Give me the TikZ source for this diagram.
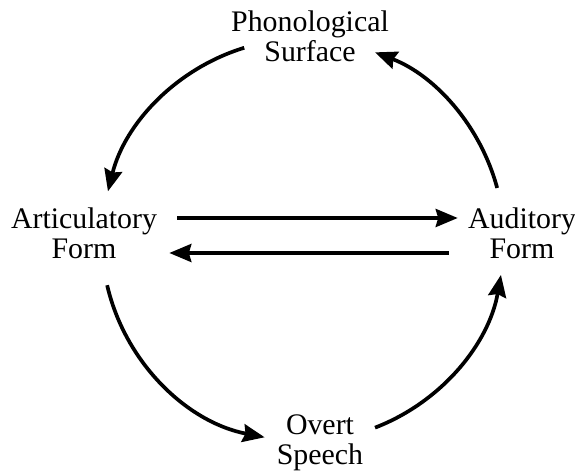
\documentclass[tikz,border=0pt]{standalone}
\usepackage{fontspec}
\setmainfont{Liberation Serif}
\usetikzlibrary{arrows.meta, math}

\tikzset{
  lbl/.style={align=center, inner sep=0pt, anchor=base, font=\fontsize{17}{17.6}\selectfont},
  flow/.style={line width=2.1pt, -{Stealth[length=0.44cm, width=0.36cm, inset=0.05cm]}},
}

\begin{document}
\begin{tikzpicture}[x=0.02cm, y=0.02cm]

\tikzmath{
\ox = 303; % centre of the cycle
\oy = 232;
\R = 201;
}

\useasboundingbox (0,0) rectangle (575,472);

%stages:
\node[lbl] (phon) at (310,410) {Phonological\\Surface};
\node[lbl] (art) at (84,213) {Articulatory\\Form};
\node[lbl] (aud) at (522,213) {Auditory\\Form};
\node[lbl] (overt) at (320,7) {Overt\\Speech};

%cycle:
\draw[flow] (\ox,\oy) ++(107:\R) arc[start angle=107, end angle=166, radius=\R];
\draw[flow] (\ox,\oy) ++(193:\R) arc[start angle=193, end angle=259, radius=\R];
\draw[flow] (\ox,\oy) ++(291:\R) arc[start angle=291, end angle=350, radius=\R];
\draw[flow] (\ox,\oy) ++(15:\R) arc[start angle=15, end angle=69, radius=\R];

%between articulatory and auditory form
\draw[flow] ([xshift=0.4cm, yshift=0.82cm]art.base east) -- ([xshift=-0.2cm, yshift=0.82cm]aud.base west);
\draw[flow] ([xshift=-0.38cm, yshift=0.12cm]aud.base west) -- ([xshift=0.24cm, yshift=0.12cm]art.base east);

\end{tikzpicture}
\end{document}
